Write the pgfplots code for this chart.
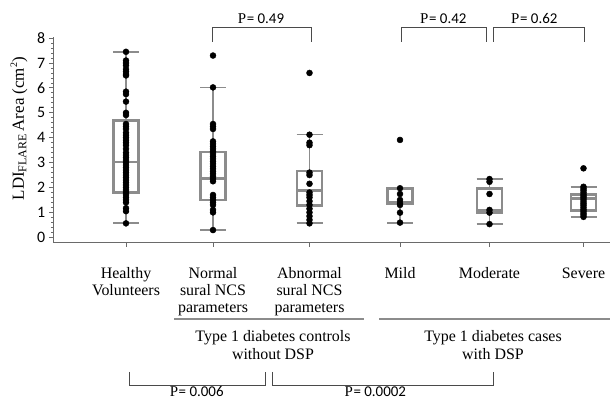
\documentclass[border=0pt]{standalone}
\usepackage{fontspec}
\setmainfont{Liberation Serif}
\newfontfamily\numfont{Carlito}
\usepackage{pgfplots}
\pgfplotsset{compat=1.18}
\definecolor{boxgray}{HTML}{8C8C8C}
\definecolor{axgray}{HTML}{6A6A6A}
\definecolor{brk}{HTML}{4A4A4A}
\newcommand{\ptext}[1]{P\kern0.6bp{\numfont=\ #1}}
\newcommand{\cat}[1]{\begin{tabular}[t]{@{}c@{}}#1\end{tabular}}
% box: position, lower whisker, lower quartile, median, upper quartile, upper whisker
\newcommand{\boxat}[6]{%
  \pgfmathsetmacro{\xl}{#1-12.5}\pgfmathsetmacro{\xr}{#1+12.5}%
  \pgfmathsetmacro{\wl}{#1-13}\pgfmathsetmacro{\wr}{#1+13}%
  \addplot[boxgray, line width=1.8bp, forget plot] coordinates {(#1,#2)(#1,#3)};
  \addplot[boxgray, line width=1.8bp, forget plot] coordinates {(#1,#5)(#1,#6)};
  \addplot[boxgray, line width=1.8bp, forget plot] coordinates {(\wl,#2)(\wr,#2)};
  \addplot[boxgray, line width=1.8bp, forget plot] coordinates {(\wl,#6)(\wr,#6)};
  \addplot[boxgray, line width=2.5bp, forget plot] coordinates {(\xl,#3)(\xr,#3)(\xr,#5)(\xl,#5)} -- cycle;
  \addplot[boxgray, line width=2.5bp, forget plot] coordinates {(\xl,#4)(\xr,#4)};
}
\begin{document}
\begin{tikzpicture}
\begin{axis}[
  x=1bp, y=24.9bp,
  xmin=53.3, xmax=615, ymin=-0.2, ymax=8.05,
  clip=false,
  axis lines*=left,
  axis line style={axgray, line width=1.3bp},
  tick align=outside,
  tick style={axgray, line width=0.8bp},
  major tick length=4.5bp, minor tick length=2.5bp,
  xtick={126,213,309.5,400,489.5,583.5},
  xticklabels={{\cat{Healthy\\Volunteers}},{\cat{Normal\\sural NCS\\parameters}},{\cat{Abnormal\\sural NCS\\parameters}},{\cat{Mild}},{\cat{Moderate}},{\cat{Severe}}},
  xticklabel style={font=\fontsize{16}{17.5}\selectfont, anchor=base, yshift=-31.3bp},
  ytick={0,1,...,8},
  minor y tick num=4,
  /pgf/number format/assume math mode=true,
  yticklabel style={font=\numfont\fontsize{16}{16}\selectfont},
]
\boxat{126}{0.56}{1.8}{3.02}{4.7}{7.45}
\boxat{213}{0.29}{1.5}{2.37}{3.42}{6.02}
\boxat{309.5}{0.56}{1.27}{1.87}{2.67}{4.13}
\boxat{400}{0.59}{1.36}{1.42}{1.97}{1.97}
\boxat{489.5}{0.53}{1.0}{1.08}{1.97}{2.34}
\boxat{583.5}{0.82}{1.08}{1.55}{1.72}{2.03}

% individual observations
\addplot[only marks, mark=*, mark size=3bp, black] coordinates {
(126,7.45)(126,7.1)(126,7.0)(126,6.9)(126,6.75)(126,6.65)(126,6.55)(126,6.5)
(126,5.85)(126,5.75)(126,5.45)(126,5.0)(126,4.91)
(126,4.55)(126,4.45)(126,4.35)(126,4.2)(126,4.1)(126,4.0)(126,3.9)(126,3.8)(126,3.7)
(126,3.55)(126,3.4)(126,3.3)(126,3.2)(126,3.1)(126,3.0)(126,2.9)(126,2.8)(126,2.7)
(126,2.6)(126,2.5)(126,2.4)(126,2.3)(126,2.2)(126,2.1)(126,2.0)(126,1.9)(126,1.8)
(126,1.7)(126,1.6)(126,1.5)(126,1.4)(126,1.17)(126,1.05)(126,0.56)
};
\addplot[only marks, mark=*, mark size=3bp, black] coordinates {
(213,7.3)(213,6.02)(213,4.55)(213,4.45)(213,4.35)(213,3.85)(213,3.75)(213,3.65)
(213,3.55)(213,3.45)(213,3.35)(213,3.25)(213,3.15)(213,3.05)(213,2.95)(213,2.85)
(213,2.75)(213,2.65)(213,2.55)(213,2.45)(213,2.35)(213,2.25)(213,1.7)(213,1.6)
(213,1.5)(213,1.4)(213,1.3)(213,1.1)(213,1.0)(213,0.29)
};
\addplot[only marks, mark=*, mark size=3bp, black] coordinates {
(309.5,6.6)(309.5,4.12)(309.5,3.8)(309.5,3.7)(309.5,2.6)(309.5,2.5)(309.5,2.15)
(309.5,1.8)(309.5,1.7)(309.5,1.6)(309.5,1.45)(309.5,1.3)(309.5,1.15)(309.5,1.0)
(309.5,0.85)(309.5,0.7)(309.5,0.56)
};
\addplot[only marks, mark=*, mark size=3bp, black] coordinates {
(400,3.91)(400,1.97)(400,1.74)(400,1.5)(400,1.37)(400,1.3)(400,0.99)(400,0.59)
};
\addplot[only marks, mark=*, mark size=3bp, black] coordinates {
(489.5,2.34)(489.5,2.23)(489.5,1.74)(489.5,1.1)(489.5,0.99)(489.5,0.53)
};
\addplot[only marks, mark=*, mark size=3bp, black] coordinates {
(583.5,2.77)(583.5,2.03)(583.5,1.95)(583.5,1.88)(583.5,1.8)(583.5,1.72)(583.5,1.65)
(583.5,1.58)(583.5,1.5)(583.5,1.42)(583.5,1.35)(583.5,1.28)(583.5,1.2)(583.5,1.12)
(583.5,1.05)(583.5,0.97)(583.5,0.9)(583.5,0.82)
};

% y label
\node[rotate=90, anchor=base, font=\fontsize{17}{17}\selectfont] at (axis cs:24,4.36)
  {LDI\raisebox{-0.3ex}{\fontsize{12}{12}\selectfont FLARE}\,Area (cm\raisebox{0.9ex}{\fontsize{10}{10}\selectfont 2})};

% brackets
\begin{scope}[brk, line width=1bp]
\draw (axis cs:212.7,7.86) -- (axis cs:212.7,8.42) -- (axis cs:311.7,8.42) -- (axis cs:311.7,7.86);
\draw (axis cs:401.7,7.86) -- (axis cs:401.7,8.42) -- (axis cs:486,8.42) -- (axis cs:486,7.86);
\draw (axis cs:493.3,7.86) -- (axis cs:493.3,8.42) -- (axis cs:584.3,8.42) -- (axis cs:584.3,7.86);
\draw (axis cs:129,-5.40) -- (axis cs:129,-5.96) -- (axis cs:265,-5.96) -- (axis cs:265,-5.40);
\draw (axis cs:272.7,-5.40) -- (axis cs:272.7,-5.96) -- (axis cs:493.3,-5.96) -- (axis cs:493.3,-5.40);
\end{scope}
\begin{scope}[font=\fontsize{15}{15}\selectfont]
\node[anchor=base] at (axis cs:261,8.59) {\ptext{0.49}};
\node[anchor=base] at (axis cs:443.3,8.59) {\ptext{0.42}};
\node[anchor=base] at (axis cs:534.3,8.59) {\ptext{0.62}};
\node[anchor=base] at (axis cs:196.7,-6.40) {\ptext{0.006}};
\node[anchor=base] at (axis cs:375.3,-6.40) {\ptext{0.0002}};
\end{scope}

% group lines and labels
\draw[boxgray, line width=1.5bp] (axis cs:174.3,-3.29) -- (axis cs:364,-3.29);
\draw[boxgray, line width=1.5bp] (axis cs:379.3,-3.29) -- (axis cs:615,-3.29);
\node[anchor=base, font=\fontsize{16}{18.3}\selectfont] at (axis cs:273,-4.19) {\cat{Type 1 diabetes controls\\without DSP}};
\node[anchor=base, font=\fontsize{16}{18.3}\selectfont] at (axis cs:493,-4.19) {\cat{Type 1 diabetes cases\\with DSP}};

\coordinate (bbA) at (axis cs:0,9.53);
\coordinate (bbB) at (axis cs:610,-6.54);
\end{axis}
\pgfresetboundingbox
\path[use as bounding box] (bbA) rectangle (bbB);
\end{tikzpicture}
\end{document}
